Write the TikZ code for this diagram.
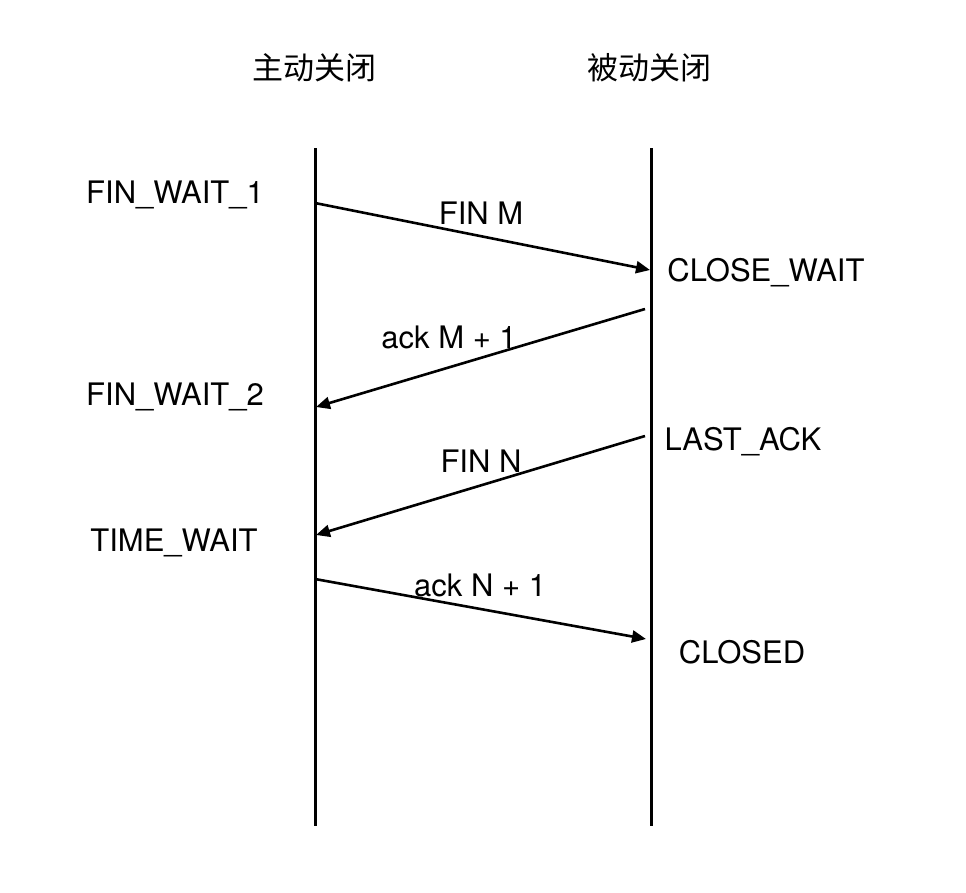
\documentclass[tikz,border=0pt]{standalone}
\usepackage{fontspec}
\setmainfont{TeX Gyre Heros}
\newfontfamily\cjk{Noto Sans CJK SC}
\usetikzlibrary{arrows.meta}
\begin{document}
\begin{tikzpicture}[x=1pt,y=-1pt,
  lifeline/.style={line width=3pt},
  msg/.style={line width=2.6pt,-{Triangle[length=14pt,width=12pt]}},
  lbl/.style={font=\fontsize{31}{36}\selectfont,inner sep=0pt},
  hdr/.style={font=\cjk\fontsize{31}{36}\selectfont,inner sep=0pt}]
\useasboundingbox[fill=white] (0,0) rectangle (966,892);
% headers
\node[hdr] (h1) at (314,68) {主动关闭};
\node[hdr] (h2) at (649,68) {被动关闭};
% lifelines
\coordinate (a0) at (315,148);
\coordinate (a1) at (315,826);
\coordinate (b0) at (651,148);
\coordinate (b1) at (651,826);
\draw[lifeline] (a0) -- (a1);
\draw[lifeline] (b0) -- (b1);
% message endpoints
\coordinate (m1s) at (315,203);
\coordinate (m1e) at (650,270);
\coordinate (m2s) at (645,309);
\coordinate (m2e) at (316,407);
\coordinate (m3s) at (645,436);
\coordinate (m3e) at (316,535);
\coordinate (m4s) at (315,579);
\coordinate (m4e) at (646,639);
\draw[msg] (m1s) -- (m1e);
\draw[msg] (m2s) -- (m2e);
\draw[msg] (m3s) -- (m3e);
\draw[msg] (m4s) -- (m4e);
% state labels
\node[lbl] (s1) at (175,195) {FIN\_WAIT\_1};
\node[lbl] (s2) at (175,397) {FIN\_WAIT\_2};
\node[lbl] (s3) at (174,543) {TIME\_WAIT};
\node[lbl] (r1) at (766,273) {CLOSE\_WAIT};
\node[lbl] (r2) at (743,442) {LAST\_ACK};
\node[lbl] (r3) at (742,652) {CLOSED};
% message labels
\node[lbl] (l1) at (481,213) {FIN M};
\node[lbl] (l2) at (449,337) {ack M + 1};
\node[lbl] (l3) at (481,461) {FIN N};
\node[lbl] (l4) at (480,585) {ack N + 1};
\end{tikzpicture}
\end{document}
